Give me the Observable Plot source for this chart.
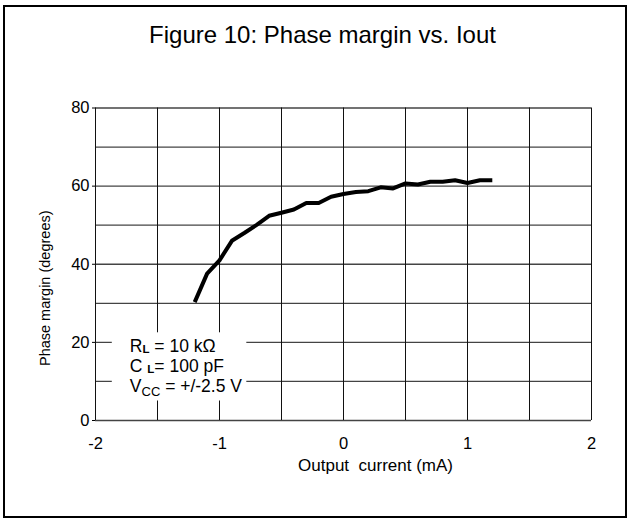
<!DOCTYPE html>
<html>
<head>
<meta charset="utf-8">
<script src="https://cdn.jsdelivr.net/npm/d3@7"></script>
<script src="https://cdn.jsdelivr.net/npm/@observablehq/plot@0.6"></script>
<style>
  html, body { margin: 0; padding: 0; background: #fff; }
  #wrap { position: relative; width: 630px; height: 518px; overflow: hidden; font-family: "Liberation Sans", Arial, sans-serif; }
  #border { position: absolute; left: 3px; top: 5px; width: 624px; height: 513px; border: 2.5px solid #000; box-sizing: border-box; pointer-events: none; }
  #title { position: absolute; left: 0; top: 22.7px; width: 645px; text-align: center; font-size: 24px; line-height: 24px; color: #000; white-space: nowrap; }
  #chart { position: absolute; left: 0; top: 60px; }
  #chart svg text { white-space: pre; }
</style>
</head>
<body>
<div id="wrap">
  <div id="title">Figure 10: Phase margin vs. Iout</div>
  <div id="chart"></div>
  <div id="border"></div>
</div>
<script>
// ---- data ----
const currentMA = [-1.2, -1.1, -1.0, -0.9, -0.8, -0.7, -0.6, -0.5, -0.4, -0.3, -0.2, -0.1, 0.0,
                   0.1, 0.2, 0.3, 0.4, 0.5, 0.6, 0.7, 0.8, 0.9, 1.0, 1.1, 1.2];
const phaseMarginDeg = [30.3, 37.6, 41.0, 46.0, 48.0, 50.1, 52.4, 53.2, 54.0, 55.7, 55.7, 57.3, 58.0,
                        58.5, 58.7, 59.7, 59.4, 60.7, 60.4, 61.1, 61.1, 61.5, 60.8, 61.5, 61.5];

const xTicks = [-2, -1, 0, 1, 2];
const xGrid = [-2, -1.5, -1, -0.5, 0, 0.5, 1, 1.5, 2];
const yTicks = [0, 20, 40, 60, 80];
const yGrid = [0, 10, 20, 30, 40, 50, 60, 70, 80];

const xLabel = "Output\u00a0 current (mA)";
const yLabel = "Phase margin (degrees)";

const annLines = [
  {base: "R", sub: "L", rest: " = 10 kΩ", subBold: true, subSize: 11.5, shift: 1},
  {base: "C ", sub: "L", rest: "= 100 pF", subBold: true, subSize: 11.5, shift: 1},
  {base: "V", sub: "CC", rest: " = +/-2.5 V", subBold: false, subSize: 13, shift: 4}
];

const data = currentMA.map((x, i) => ({x, y: phaseMarginDeg[i]}));
const annString = annLines.map(l => l.base + l.sub + l.rest).join("\n");

const chart = Plot.plot({
  width: 630,
  height: 458,
  marginLeft: 95,
  marginRight: 39,
  marginTop: 47.5,
  marginBottom: 98,
  style: {fontFamily: "'Liberation Sans', Arial, sans-serif", fontSize: "16.5px", background: "transparent", color: "#000", overflow: "visible"},
  x: {domain: [-2, 2], ticks: xTicks, tickSize: 0, tickPadding: 16.5, tickFormat: d => String(d), label: null},
  y: {domain: [0, 80], ticks: yTicks, tickSize: 3, tickPadding: 3, tickFormat: d => String(d), label: null},
  marks: [
    Plot.ruleY(yGrid, {stroke: "#444", strokeWidth: 1.3}),
    Plot.ruleX(xGrid, {stroke: "#111", strokeWidth: 1}),
    Plot.line(data, {x: "x", y: "y", stroke: "#000", strokeWidth: 4, strokeLinejoin: "round", strokeLinecap: "butt"}),
    Plot.text([annString], {
      frameAnchor: "bottom-left", dx: 34.3, dy: -29, textAnchor: "start", lineAnchor: "bottom",
      lineHeight: 1.12, fontSize: 17.5, fill: "#000"
    }),
    Plot.text([yLabel], {frameAnchor: "left", dx: -50, dy: 24, rotate: -90, textAnchor: "middle", fontSize: 14.5, fill: "#000"}),
    Plot.text([xLabel], {frameAnchor: "bottom", dx: 32, dy: 50, textAnchor: "middle", lineAnchor: "bottom", fontSize: 17, fill: "#000"})
  ]
});

document.getElementById("chart").appendChild(chart);

// subscripts + white background box for the annotation
const ns = "http://www.w3.org/2000/svg";
const svg = chart.tagName.toLowerCase() === "svg" ? chart : chart.querySelector("svg");
const joined = annLines.map(l => l.base + l.sub + l.rest).join("");
const annText = Array.from(svg.querySelectorAll("text")).find(e => e.textContent.replace(/\n/g, "") === joined);
if (annText) {
  const spans = Array.from(annText.querySelectorAll("tspan"));
  annLines.forEach((l, i) => {
    const holder = spans[i];
    if (!holder) return;
    holder.textContent = "";
    const a = document.createElementNS(ns, "tspan"); a.textContent = l.base;
    const b = document.createElementNS(ns, "tspan"); b.textContent = l.sub;
    b.setAttribute("font-size", l.subSize);
    b.setAttribute("font-weight", l.subBold ? "bold" : "normal");
    b.setAttribute("dy", l.shift);
    const c = document.createElementNS(ns, "tspan"); c.textContent = l.rest;
    c.setAttribute("dy", -l.shift);
    holder.append(a, b, c);
  });
  const svgRect = svg.getBoundingClientRect();
  const r = annText.getBoundingClientRect();
  const x0 = r.left - svgRect.left, y0 = r.top - svgRect.top;
  const rect = document.createElementNS(ns, "rect");
  rect.setAttribute("x", x0 - 18);
  rect.setAttribute("y", y0 - 4);
  rect.setAttribute("width", r.width + 22);
  rect.setAttribute("height", r.height + 6);
  rect.setAttribute("fill", "#fff");
  const g = annText.closest("g[aria-label]") || annText.parentNode;
  g.parentNode.insertBefore(rect, g);
}
</script>
</body>
</html>
